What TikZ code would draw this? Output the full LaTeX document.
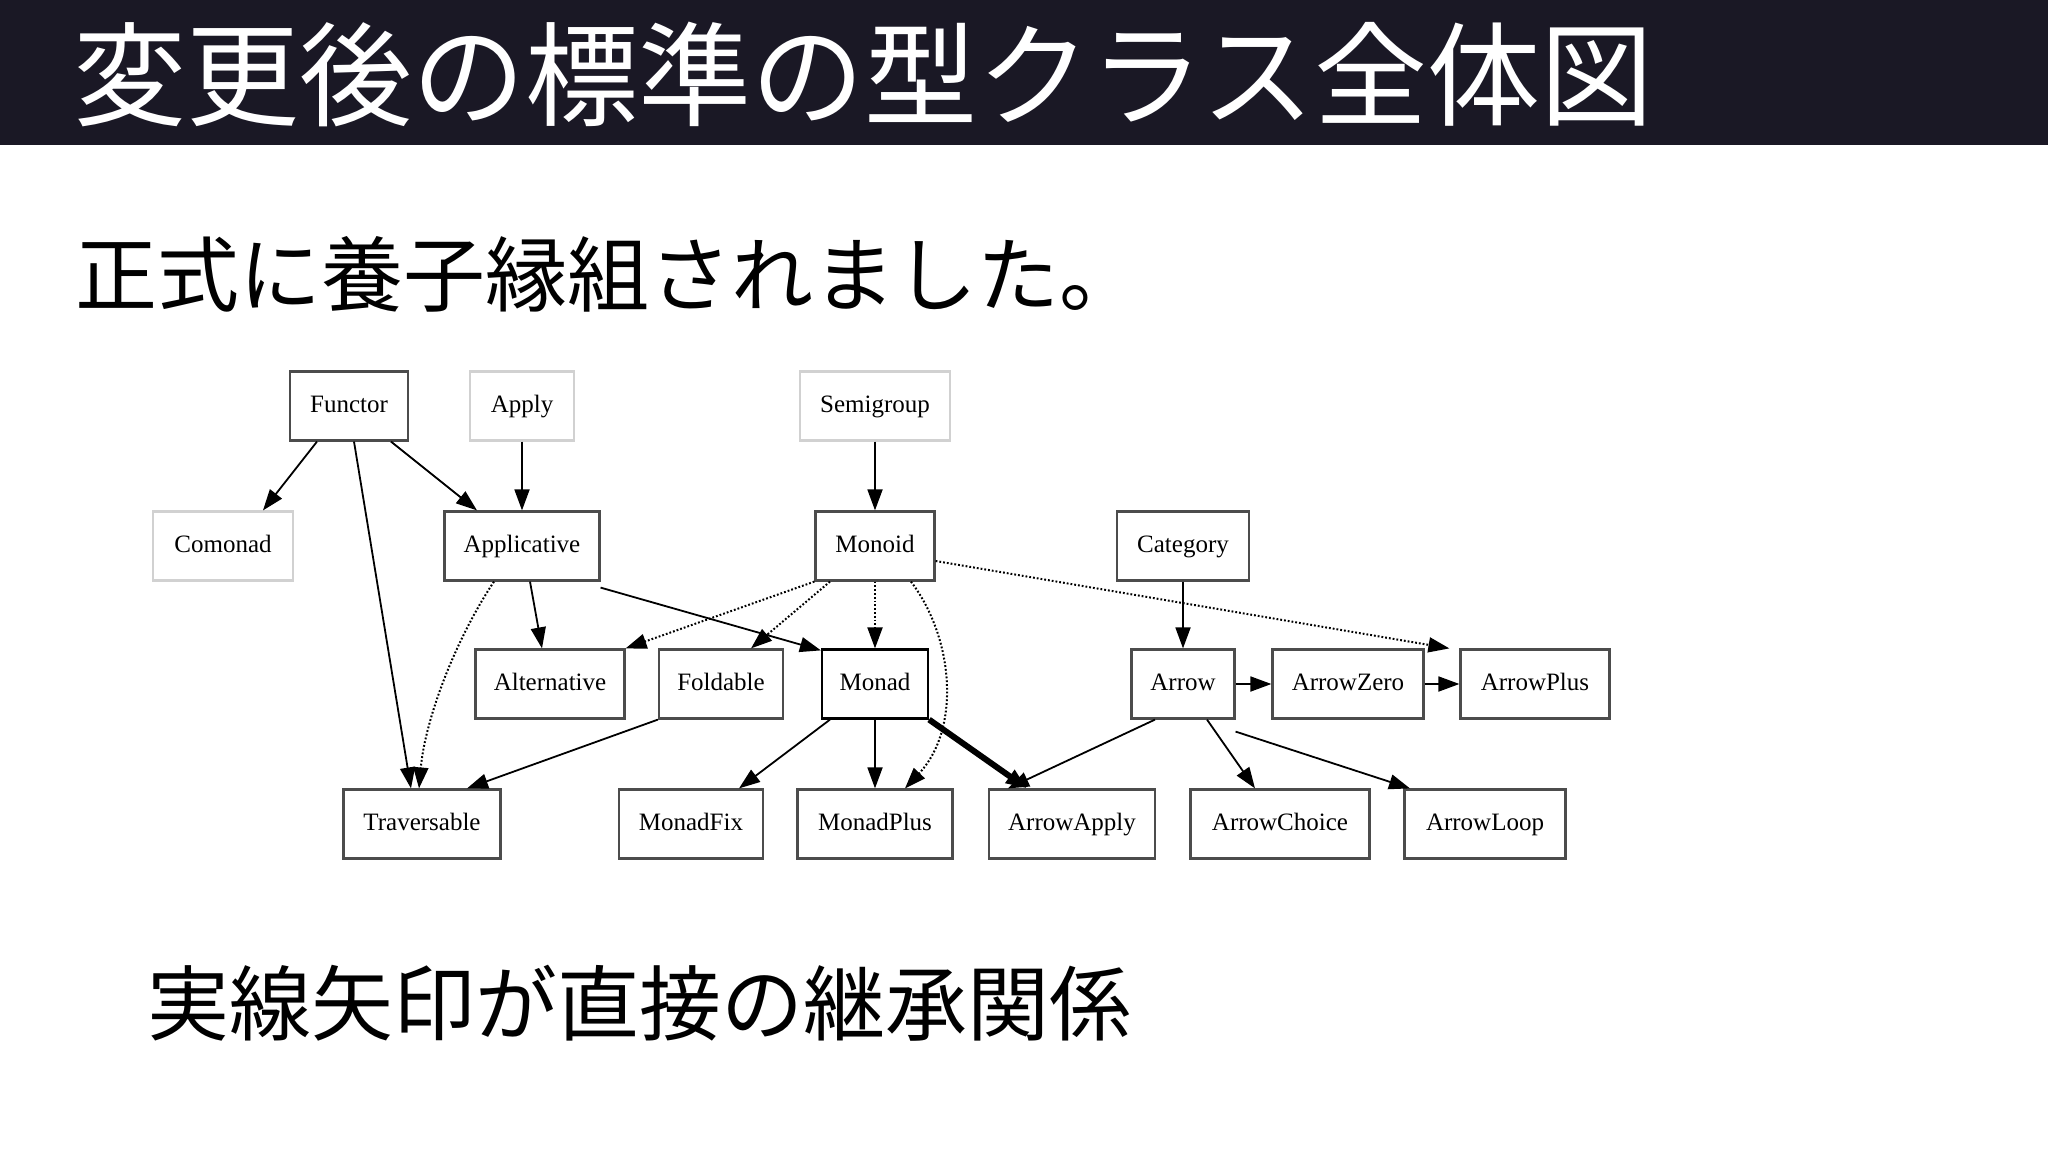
\documentclass[tikz,border=0pt]{standalone}
\usepackage{fontspec}
\setmainfont{Liberation Serif}
\newfontfamily\cjk{Noto Sans CJK JP}
\usetikzlibrary{arrows.meta}
\definecolor{bar}{HTML}{1A1825}
\begin{document}
\begin{tikzpicture}[x=1pt,y=-1pt,
 cls/.style={draw=black!70,line width=2.2pt,minimum height=69pt,inner sep=0pt,text height=17pt,text depth=5pt,font=\fontsize{25}{25}\selectfont},
 gcls/.style={cls,draw=black!18},
 e/.style={line width=1.8pt,-{Triangle[length=21pt,width=15pt]}},
 d/.style={e,dotted,line width=2pt}]
\useasboundingbox[fill=white] (0,0) rectangle (2048,1150);
\fill[bar] (0,0) rectangle (2048,145);
\node[anchor=west,text=white,font=\cjk\fontsize{113}{113}\selectfont] (title) at (70,74) {変更後の標準の型クラス全体図};
\node[anchor=west,font=\cjk\fontsize{82}{82}\selectfont] (sub) at (72,274) {正式に養子縁組されました。};
\node[anchor=west,font=\cjk\fontsize{82}{82}\selectfont] (foot) at (144,1003) {実線矢印が直接の継承関係};
\node[cls,minimum width=118pt] (Functor) at (349,406) {Functor};
\node[gcls,minimum width=104pt] (Apply) at (522,406) {Apply};
\node[gcls,minimum width=150pt] (Semigroup) at (875,406) {Semigroup};
\node[gcls,minimum width=140pt] (Comonad) at (223,546) {Comonad};
\node[cls,minimum width=155pt] (Applicative) at (522,546) {Applicative};
\node[cls,minimum width=119pt] (Monoid) at (875,546) {Monoid};
\node[cls,minimum width=132pt] (Category) at (1183,546) {Category};
\node[cls,minimum width=149pt] (Alternative) at (550,684) {Alternative};
\node[cls,minimum width=124pt] (Foldable) at (721,684) {Foldable};
\node[cls,minimum width=106pt,draw=black] (Monad) at (875,684) {Monad};
\node[cls,minimum width=103pt] (Arrow) at (1183,684) {Arrow};
\node[cls,minimum width=151pt] (ArrowZero) at (1348,684) {ArrowZero};
\node[cls,minimum width=149pt] (ArrowPlus) at (1535,684) {ArrowPlus};
\node[cls,minimum width=157pt] (Traversable) at (422,824) {Traversable};
\node[cls,minimum width=144pt] (MonadFix) at (691,824) {MonadFix};
\node[cls,minimum width=155pt] (MonadPlus) at (875,824) {MonadPlus};
\node[cls,minimum width=166pt] (ArrowApply) at (1072,824) {ArrowApply};
\node[cls,minimum width=179pt] (ArrowChoice) at (1280,824) {ArrowChoice};
\node[cls,minimum width=161pt] (ArrowLoop) at (1485,824) {ArrowLoop};
% solid
\draw[e] ([xshift=-32pt]Functor.south) -- ([xshift=40pt]Comonad.north);
\draw[e] ([xshift=42pt]Functor.south) -- ([xshift=-45pt]Applicative.north);
\draw[e] ([xshift=5pt]Functor.south) -- ([xshift=-11pt]Traversable.north);
\draw[e] (Apply) -- (Applicative);
\draw[e] (Semigroup) -- (Monoid);
\draw[e] ([xshift=8pt]Applicative.south) -- ([xshift=-8pt]Alternative.north);
\draw[e] ([yshift=-6pt]Applicative.south east) -- ([yshift=-2pt]Monad.north west);
\draw[e] (Category) -- (Arrow);
\draw[e] (Arrow) -- (ArrowZero);
\draw[e] (ArrowZero) -- (ArrowPlus);
\draw[e] ([xshift=-28pt]Arrow.south) -- ([xshift=-64pt]ArrowApply.north);
\draw[e] ([xshift=24pt]Arrow.south) -- ([xshift=-25pt]ArrowChoice.north);
\draw[e] ([yshift=-12pt]Arrow.south east) -- ([xshift=-75pt]ArrowLoop.north);
\draw[e] (Foldable.south west) -- ([xshift=45pt]Traversable.north);
\draw[e] ([xshift=-45pt]Monad.south) -- ([xshift=48pt]MonadFix.north);
\draw[e] (Monad) -- (MonadPlus);
\draw[e,line width=6pt] (Monad.south east) -- ([xshift=-45pt]ArrowApply.north);
% dotted
\draw[d] ([xshift=-28pt]Applicative.south) .. controls (455,640) and (425,720) .. ([xshift=-3pt]Traversable.north);
\draw[d] (Monoid.south west) -- (Alternative.north east);
\draw[d] ([xshift=-45pt]Monoid.south) -- ([xshift=30pt]Foldable.north);
\draw[d] (Monoid) -- (Monad);
\draw[d] ([xshift=36pt]Monoid.south) .. controls (955,640) and (960,730) .. ([xshift=30pt]MonadPlus.north);
\draw[d] ([yshift=-15pt]Monoid.east) -- ([xshift=-10pt]ArrowPlus.north west);
\end{tikzpicture}
\end{document}
